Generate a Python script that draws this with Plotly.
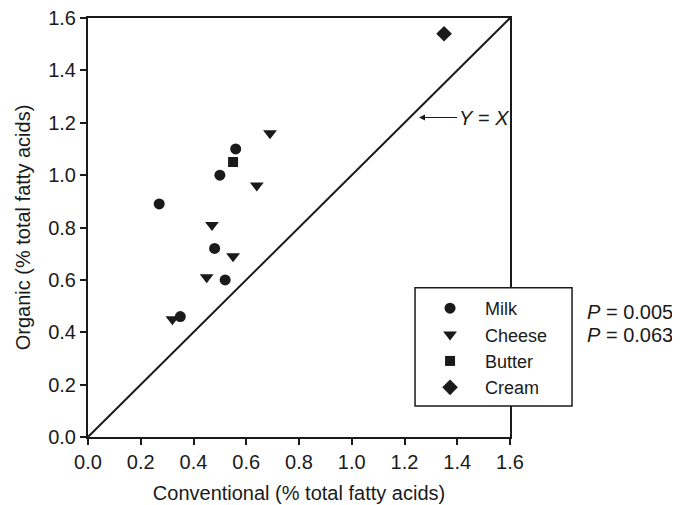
import plotly.graph_objects as go

# Data (Conventional x, Organic y), % total fatty acids
milk_x = [0.27, 0.56, 0.50, 0.48, 0.52, 0.35]
milk_y = [0.89, 1.10, 1.00, 0.72, 0.60, 0.46]
cheese_x = [0.69, 0.64, 0.47, 0.55, 0.45, 0.32]
cheese_y = [1.16, 0.96, 0.81, 0.69, 0.61, 0.45]
butter_x = [0.55]
butter_y = [1.05]
cream_x = [1.35]
cream_y = [1.54]
tick_vals = [0.0, 0.2, 0.4, 0.6, 0.8, 1.0, 1.2, 1.4, 1.6]
p_values = ["0.005", "0.063"]

FONT = "Liberation Sans, Arial, sans-serif"
INK = "#1a1a1a"
FS = 20

fig = go.Figure()

# Y = X line
fig.add_trace(go.Scatter(x=[0, 1.6], y=[0, 1.6], mode="lines",
                         line=dict(color=INK, width=2), showlegend=False,
                         hoverinfo="skip"))

series = [
    ("Milk", milk_x, milk_y, "circle", 11),
    ("Cheese", cheese_x, cheese_y, "triangle-down", 12),
    ("Butter", butter_x, butter_y, "square", 10),
    ("Cream", cream_x, cream_y, "diamond", 12),
]
for name, xs, ys, sym, sz in series:
    fig.add_trace(go.Scatter(x=xs, y=ys, mode="markers", name=name,
                             marker=dict(symbol=sym, size=sz, color=INK,
                                         line=dict(width=0))))

axis_common = dict(
    range=[0, 1.6], tickvals=tick_vals, tickformat=".1f",
    ticks="outside", ticklen=6, tickwidth=1.5, tickcolor=INK,
    showline=True, linecolor=INK, linewidth=2, mirror=True,
    showgrid=False, zeroline=False, automargin=False,
    ticklabeloverflow="allow",
    tickfont=dict(family=FONT, size=FS, color=INK),
)

# The page body has an 8px default margin, so the figure is made 8px
# smaller and margins shifted to land the plot where the reference has it.
fig.update_layout(
    width=672, height=497,
    margin=dict(l=80, r=170, t=10, b=68, autoexpand=False),
    paper_bgcolor="white", plot_bgcolor="white",
    font=dict(family=FONT, size=FS, color=INK),
    xaxis=dict(**axis_common,
               title=dict(text="Conventional (% total fatty acids)",
                          font=dict(family=FONT, size=FS, color=INK),
                          standoff=14)),
    yaxis=dict(**axis_common,
               title=dict(text="Organic (% total fatty acids)",
                          font=dict(family=FONT, size=FS, color=INK),
                          standoff=12)),
    legend=dict(x=0.775, y=0.351, xanchor="left", yanchor="top",
                bgcolor="rgba(0,0,0,0)", borderwidth=0,
                font=dict(family=FONT, size=18, color=INK),
                itemwidth=60),
    showlegend=True,
)

# Legend frame (white box that also masks the right axis line)
fig.add_shape(type="rect", xref="paper", yref="paper",
              x0=0.775, x1=1.147, y0=0.074, y1=0.356,
              fillcolor="white", line=dict(color=INK, width=1.5),
              layer="above")

# Y = X arrow annotation
fig.add_annotation(x=1.255, y=1.22, xref="x", yref="y",
                   ax=1.50, ay=1.22, axref="x", ayref="y",
                   text="<i>Y</i> = <i>X</i>", showarrow=True,
                   arrowhead=2, arrowsize=1, arrowwidth=1.2, arrowcolor=INK,
                   font=dict(family=FONT, size=FS, color=INK))

# P values
for i, p in enumerate(p_values):
    fig.add_annotation(x=1.178, y=0.298 - i * 0.055, xref="paper", yref="paper",
                       xanchor="left", yanchor="middle", showarrow=False,
                       text=f"<i>P</i> = {p}",
                       font=dict(family=FONT, size=FS, color=INK))

fig.write_html("out.html")
